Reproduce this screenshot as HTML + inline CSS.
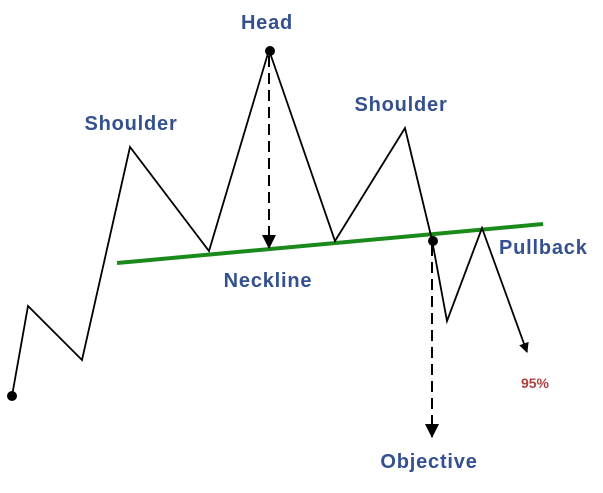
<!DOCTYPE html>
<html><head><style>body{margin:0;background:#fff}</style></head><body>
<svg width="603" height="488" xmlns="http://www.w3.org/2000/svg" font-family="Liberation Sans, sans-serif" font-weight="bold">
<defs>
<marker id="a" markerWidth="10" markerHeight="10" refX="9" refY="5" orient="auto" markerUnits="userSpaceOnUse"><path d="M0,0 L10,5 L0,10 z" fill="#000"/></marker>
<marker id="b" markerWidth="14" markerHeight="14" refX="13" refY="7" orient="auto" markerUnits="userSpaceOnUse"><path d="M0,0 L14,7 L0,14 z" fill="#000"/></marker>
</defs>
<line x1="117" y1="263" x2="543" y2="224" stroke="#1a8a1a" stroke-width="4"/>
<polyline points="12,396 28,306 82,360 130,147 209,251 269,50 335,241 405,128 432,240 447,321 482,228 527,352" fill="none" stroke="#000" stroke-width="1.8" marker-end="url(#a)"/>
<line x1="269" y1="56" x2="269" y2="248" stroke="#000" stroke-width="2" stroke-dasharray="11,6" marker-end="url(#b)"/>
<line x1="432" y1="245" x2="432" y2="437" stroke="#000" stroke-width="2" stroke-dasharray="11,6" marker-end="url(#b)"/>
<circle cx="12" cy="396" r="5"/>
<circle cx="270" cy="51" r="5"/>
<circle cx="433" cy="241" r="5"/>
<g fill="#34508f" font-size="20" letter-spacing="0.8">
<text x="267" y="29" text-anchor="middle">Head</text>
<text x="131" y="130" text-anchor="middle">Shoulder</text>
<text x="401" y="111" text-anchor="middle">Shoulder</text>
<text x="268" y="287" text-anchor="middle">Neckline</text>
<text x="499" y="254">Pullback</text>
<text x="429" y="468" text-anchor="middle">Objective</text>
</g>
<text x="535" y="388" text-anchor="middle" fill="#b04040" font-size="14">95%</text>
</svg>
</body></html>
